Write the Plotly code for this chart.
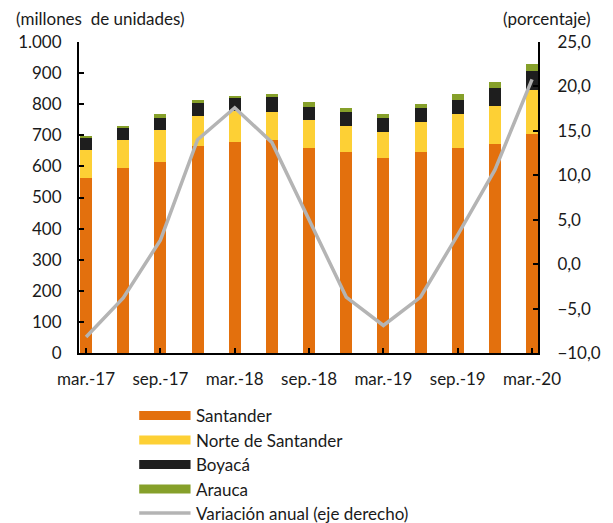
import plotly.graph_objects as go

categories = ["mar.-17", "jun.-17", "sep.-17", "dic.-17", "mar.-18", "jun.-18", "sep.-18",
              "dic.-18", "mar.-19", "jun.-19", "sep.-19", "dic.-19", "mar.-20"]
santander = [563, 595, 614, 666, 678, 685, 659, 646, 627, 646, 659, 672, 703]
norte_santander = [89, 90, 103, 96, 99, 89, 90, 84, 84, 97, 109, 122, 143]
boyaca = [38, 37, 38, 43, 42, 50, 43, 44, 44, 44, 46, 57, 62]
arauca = [8, 8, 13, 8, 7, 9, 15, 14, 13, 14, 18, 20, 21]
variacion = [-8.2, -3.8, 2.7, 14.0, 17.6, 13.7, 5.0, -3.7, -6.9, -3.7, 3.3, 10.6, 20.8]

tick_labels = ["mar.-17", "sep.-17", "mar.-18", "sep.-18", "mar.-19", "sep.-19", "mar.-20"]
series_names = ["Santander", "Norte de Santander", "Boyacá", "Arauca"]
line_name = "Variación anual (eje derecho)"

x = list(range(len(categories)))
tick_pos = x[::2]

colors = {"Santander": "#E3700D", "Norte de Santander": "#FDD035",
          "Boyacá": "#1E1E1E", "Arauca": "#86A02A"}
line_color = "#B4B4B4"
font_family = "Lato"
txt = "#1a1a1a"

W, H = 613, 523
L, R, T, B = 79, 69, 42, 170
pw, ph = W - L - R, H - T - B


def px_x(p):
    return (p - L) / pw


def px_y(p):
    return (H - B - p) / ph


fig = go.Figure()
for name, vals in zip(series_names, [santander, norte_santander, boyaca, arauca]):
    fig.add_trace(go.Bar(x=x, y=vals, name=name, marker_color=colors[name],
                         marker_line_width=0, width=0.32, showlegend=False,
                         hovertemplate=name + ": %{y}<extra></extra>"))

fig.add_trace(go.Scatter(x=x, y=variacion, yaxis="y2", mode="lines",
                         line=dict(color=line_color, width=3.5), showlegend=False,
                         name=line_name))

# manual legend (symbols + labels)
shapes = []
annotations = []
leg_y = [415.5, 440, 464.5, 489, 513]
for i, name in enumerate(series_names + [line_name]):
    yc = leg_y[i]
    if name == line_name:
        shapes.append(dict(type="line", xref="paper", yref="paper",
                           x0=px_x(140), x1=px_x(192), y0=px_y(yc), y1=px_y(yc),
                           line=dict(color=line_color, width=3.5)))
    else:
        shapes.append(dict(type="rect", xref="paper", yref="paper",
                           x0=px_x(140), x1=px_x(192), y0=px_y(yc - 4.5), y1=px_y(yc + 4.5),
                           fillcolor=colors[name], line=dict(width=0)))
    annotations.append(dict(text=name, xref="paper", yref="paper", x=px_x(196), y=px_y(yc),
                            xanchor="left", yanchor="middle", showarrow=False,
                            font=dict(size=17)))

annotations.append(dict(text="(millones  de unidades)", xref="paper", yref="paper",
                        x=px_x(13), y=px_y(18), xanchor="left", yanchor="middle",
                        showarrow=False, font=dict(size=17)))
annotations.append(dict(text="(porcentaje)", xref="paper", yref="paper",
                        x=px_x(599), y=px_y(18), xanchor="right", yanchor="middle",
                        showarrow=False, font=dict(size=17)))

axis_common = dict(showline=True, linecolor="black", linewidth=2, ticks="inside",
                   ticklen=5, tickcolor="black", tickwidth=1.5, showgrid=False,
                   zeroline=False, tickfont=dict(size=17))

fig.update_layout(
    width=W, height=H,
    margin=dict(l=L, r=R, t=T, b=B),
    barmode="stack",
    separators=",.",
    plot_bgcolor="white", paper_bgcolor="white",
    font=dict(family=font_family, size=17, color=txt),
    showlegend=False,
    xaxis=dict(range=[-0.19, 12.16], tickvals=tick_pos, ticktext=tick_labels,
               ticklabelstandoff=10, **axis_common),
    yaxis=dict(range=[0, 1000], dtick=100, tickformat=",d",
               ticklabelstandoff=12, **axis_common),
    yaxis2=dict(range=[-10, 25], dtick=5, tickformat=".1f", overlaying="y", side="right",
                ticklabelstandoff=14, **axis_common),
    shapes=shapes,
    annotations=annotations,
)

fig.write_html("out.html", config={"displayModeBar": False},
               post_script="document.body.style.margin='0';")
